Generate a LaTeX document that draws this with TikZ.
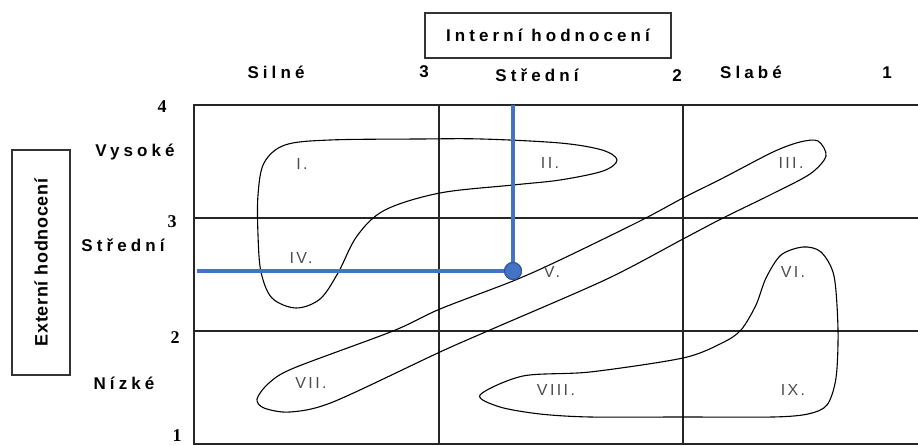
\documentclass[tikz,border=0pt]{standalone}
\usepackage{fontspec}
\setmainfont{Liberation Sans}
\newfontfamily\spacedfont[LetterSpace=24]{Liberation Sans}
\newfontfamily\vertfont[LetterSpace=4]{Liberation Sans}
\newfontfamily\zonefont[LetterSpace=15]{Liberation Sans}
\newfontfamily\numfont{Liberation Serif}
\usetikzlibrary{positioning}

\definecolor{markblue}{HTML}{4472C4}
\definecolor{markedge}{HTML}{2F5597}

\begin{document}
\begin{tikzpicture}[
        x=1pt, y=-1pt,
        gridline/.style={draw=black!85, line width=1.7pt},
        zoneline/.style={draw=black, line width=1.1pt},
        axislbl/.style={font=\spacedfont\bfseries\fontsize{17}{19}\selectfont, inner sep=0pt},
        toplbl/.style={font=\bfseries\fontsize{17}{19}\selectfont, inner sep=0pt},
        numlbl/.style={font=\numfont\bfseries\fontsize{18}{20}\selectfont, inner sep=0pt},
        zonelbl/.style={font=\zonefont\fontsize{16}{18}\selectfont, text=black!70, inner sep=0pt},
        hbox/.style={draw=black!80, line width=1.1pt, inner sep=0pt},
        guide/.style={draw=markblue, line width=3.6pt}
      ]
      \useasboundingbox (0,0) rectangle (918,446);

      % Axis boxes
      \node[hbox, minimum width=246, minimum height=45] (inthead) at (548,35.5) {};
      \node[axislbl] (inttext) at (inthead) {Interní hodnocení};
      \node[hbox, minimum width=58, minimum height=225] (exthead) at (41,262.5) {};
      \node[font=\vertfont\bfseries\fontsize{18}{20}\selectfont, rotate=90, inner sep=0pt] (exttext) at (exthead) {Externí hodnocení};

      % Column labels
      \node[axislbl] (colstrong) at (276,72) {Silné};
      \node[toplbl] (topthree) at (424,72) {3};
      \node[axislbl] (colmid) at (537,75) {Střední};
      \node[toplbl] (toptwo) at (677,76) {2};
      \node[axislbl] (colweak) at (751,72) {Slabé};
      \node[toplbl] (topone) at (887,73) {1};

      % Row labels
      \node[numlbl] (leftfour) at (162,107) {4};
      \node[axislbl] (rowhigh) at (135,152) {Vysoké};
      \node[numlbl] (leftthree) at (172,222) {3};
      \node[axislbl] (rowmid) at (123,245) {Střední};
      \node[numlbl] (lefttwo) at (175,338) {2};
      \node[axislbl] (rowlow) at (124,383) {Nízké};
      \node[numlbl] (leftone) at (177,436) {1};

      % Grid
      \draw[gridline] (918,105) -- (194,105) -- (194,444) -- (918,444);
      \draw[gridline] (439,105) -- (439,444);
      \draw[gridline] (683,105) -- (683,444);
      \draw[gridline] (194,218) -- (918,218);
      \draw[gridline] (194,331) -- (918,331);

      % Zone I, II, IV
      \draw[zoneline] plot[smooth cycle, tension=0.55] coordinates {
        (258,195) (264,163) (285,145) (330,140) (420,139) (482,139)
        (560,143) (602,150) (617,160) (603,171) (560,180) (513,185)
        (440,193) (385,210) (357,236) (338,273) (320,299) (296,308)
        (272,298) (261,272) (258,235)};

      % Zone III, V, VII
      \draw[zoneline] plot[smooth cycle, tension=0.5] coordinates {
        (818,141) (826,156) (810,174) (770,195) (723,218) (683,239)
        (607,279) (490,330) (440,352) (333,402) (290,412) (264,408)
        (257,399) (269,383) (294,368) (393,331) (440,309) (513,281)
        (560,260) (640,221) (683,198) (723,178) (773,152) (800,142)};

      % Zone VI, VIII, IX
      \draw[zoneline] plot[smooth cycle, tension=0.5] coordinates {
        (480,395) (500,407) (540,414) (590,417) (683,417) (773,417)
        (808,414) (827,405) (836,378) (838,330) (834,276) (821,252)
        (803,247) (781,255) (766,278) (756,305) (741,330) (722,343)
        (683,358) (590,372) (523,376)};

      % Zone labels
      \node[zonelbl] (zone1) at (302,164) {I.};
      \node[zonelbl] (zone2) at (550,163) {II.};
      \node[zonelbl] (zone3) at (791,163) {III.};
      \node[zonelbl] (zone4) at (301,258) {IV.};
      \node[zonelbl] (zone5) at (552,272) {V.};
      \node[zonelbl] (zone6) at (793,272) {VI.};
      \node[zonelbl] (zone7) at (311,383) {VII.};
      \node[zonelbl] (zone8) at (556,390) {VIII.};
      \node[zonelbl] (zone9) at (793,390) {IX.};

      % Position marker
      \coordinate (guidetop) at (513,105);
      \coordinate (guideleft) at (197,271);
      \node[circle, fill=markblue, draw=markedge, line width=1pt, minimum size=17, inner sep=0pt] (marker) at (513,271) {};
      \draw[guide] (guidetop) -- (marker.center);
      \draw[guide] (guideleft) -- (marker.center);
      \node[circle, fill=markblue, draw=markedge, line width=1pt, minimum size=17, inner sep=0pt] at (marker) {};
    \end{tikzpicture}
\end{document}
